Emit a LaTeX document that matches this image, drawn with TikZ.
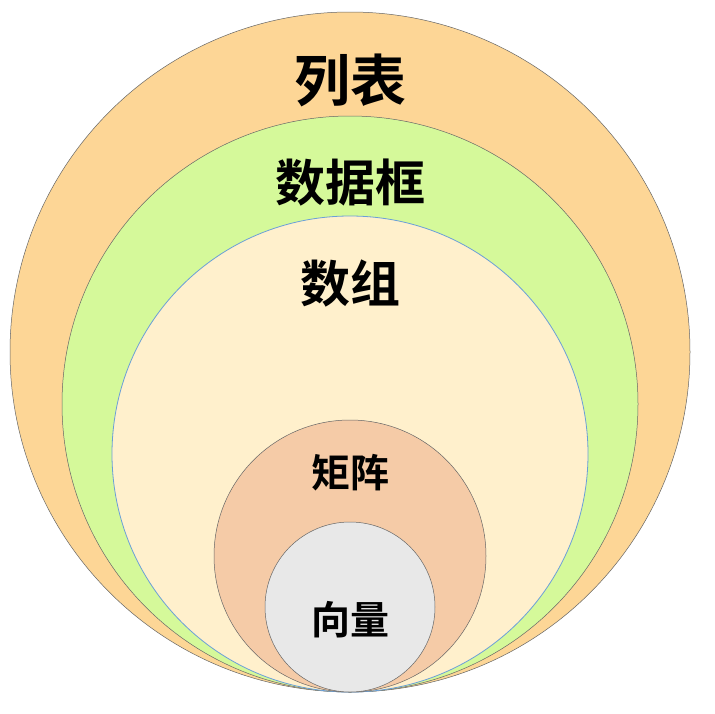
\documentclass[tikz,border=0pt]{standalone}
\usepackage{fontspec}
\newfontfamily\cjk{Noto Sans CJK SC Bold}
\begin{document}
\begin{tikzpicture}[x=1pt,y=-1pt,
  ring/.style={draw=black!60,line width=0.5pt},
  lbl/.style={font=\cjk, text=black}]
\useasboundingbox (0,0) rectangle (715,713);
\fill[white] (0,0) rectangle (715,713);
\path[ring,fill={rgb,255:red,253;green,214;blue,150}] (350,352) circle (340);
\path[ring,fill={rgb,255:red,213;green,249;blue,154}] (350,404) circle (288);
\path[draw={rgb,255:red,106;green,159;blue,216},line width=0.8pt,fill={rgb,255:red,255;green,240;blue,204}] (350,454) circle (238);
\path[ring,fill={rgb,255:red,245;green,203;blue,167}] (350,556) circle (136);
\path[ring,fill={rgb,255:red,232;green,232;blue,232}] (350,607) circle (85);
\node[lbl,font=\cjk\fontsize{56}{60}\selectfont] (lb) at (350,80) {列表};
\node[lbl,font=\cjk\fontsize{50}{54}\selectfont] (sjk) at (350,183) {数据框};
\node[lbl,font=\cjk\fontsize{50}{54}\selectfont] (sz) at (350,283) {数组};
\node[lbl,font=\cjk\fontsize{39}{42}\selectfont] (jz) at (350,473) {矩阵};
\node[lbl,font=\cjk\fontsize{39}{42}\selectfont] (xl) at (350,620) {向量};
\end{tikzpicture}
\end{document}
